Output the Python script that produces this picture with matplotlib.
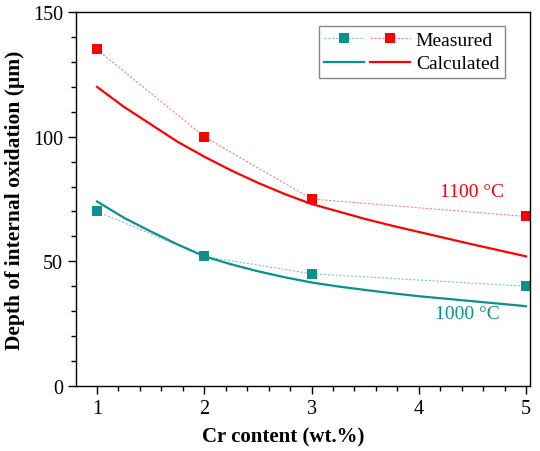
import numpy as np
import matplotlib.pyplot as plt
from matplotlib.legend_handler import HandlerTuple
from matplotlib.ticker import MultipleLocator

plt.rcParams['font.family'] = ['Liberation Serif', 'DejaVu Serif']

# measured data
cr_meas = [1, 2, 3, 5]
meas_1100 = [135, 100, 75, 68]
meas_1000 = [70, 52, 45, 40]

# calculated curves
cr_calc = [1, 1.25, 1.5, 1.75, 2, 2.25, 2.5, 2.75, 3, 3.25, 3.5, 3.75, 4, 4.25, 4.5, 4.75, 5]
calc_1100 = [120, 112, 105, 98, 92, 86.5, 81.5, 77, 73, 70, 67, 64.3, 61.8, 59.3, 56.8, 54.4, 52]
calc_1000 = [74, 67.5, 62, 56.8, 52, 48.8, 46, 43.6, 41.5, 39.9, 38.5, 37.2, 36, 35, 34, 33, 32]

red = '#ff0000'
teal = '#0b9090'
red_light = '#ff8080'
teal_light = '#80c4c4'

fig, ax = plt.subplots(figsize=(5.4, 4.52), dpi=100)
fig.subplots_adjust(left=0.141, right=0.982, top=0.971, bottom=0.144)

m1, = ax.plot(cr_meas, meas_1000, ls=(0, (2, 1.5)), lw=0.8, color=teal_light,
              marker='s', ms=7, mfc=teal, mec=teal, markeredgewidth=0)
m2, = ax.plot(cr_meas, meas_1100, ls=(0, (2, 1.5)), lw=0.8, color=red_light,
              marker='s', ms=7, mfc=red, mec=red, markeredgewidth=0)
c1, = ax.plot(cr_calc, calc_1000, color=teal, lw=1.6)
c2, = ax.plot(cr_calc, calc_1100, color=red, lw=1.6)

ax.text(4.5, 78, '1100 °C', color=red, fontsize=14, ha='center', va='center')
ax.text(4.45, 29, '1000 °C', color=teal, fontsize=14, ha='center', va='center')

ax.set_xlim(0.805, 5.04)
ax.set_ylim(0, 150)
ax.xaxis.set_major_locator(MultipleLocator(1))
ax.xaxis.set_minor_locator(MultipleLocator(0.2))
ax.yaxis.set_major_locator(MultipleLocator(50))
ax.yaxis.set_minor_locator(MultipleLocator(10))
ax.tick_params(which='both', direction='out', labelsize=14.5, width=1)
ax.tick_params(which='major', length=6)
ax.tick_params(which='minor', length=3.5)
for s in ax.spines.values():
    s.set_linewidth(1)

ax.set_xlabel('Cr content (wt.%)', fontsize=15, fontweight='bold')
ax.set_ylabel('Depth of internal oxidation (μm)', fontsize=15.5, fontweight='bold')
ax.xaxis.set_label_coords(0.456, -0.108)
ax.yaxis.set_label_coords(-0.112, 0.5)

leg = ax.legend([(m1, m2), (c1, c2)], ['Measured', 'Calculated'],
                handler_map={tuple: HandlerTuple(ndivide=None, pad=0.3)},
                handlelength=4.4, fontsize=14, loc='upper right',
                bbox_to_anchor=(0.966, 0.99), fancybox=False, framealpha=1,
                edgecolor='#888888', borderpad=0.3, labelspacing=0.3,
                handletextpad=0.3)
leg.get_frame().set_linewidth(1)

fig.savefig('out.png', dpi=100)
